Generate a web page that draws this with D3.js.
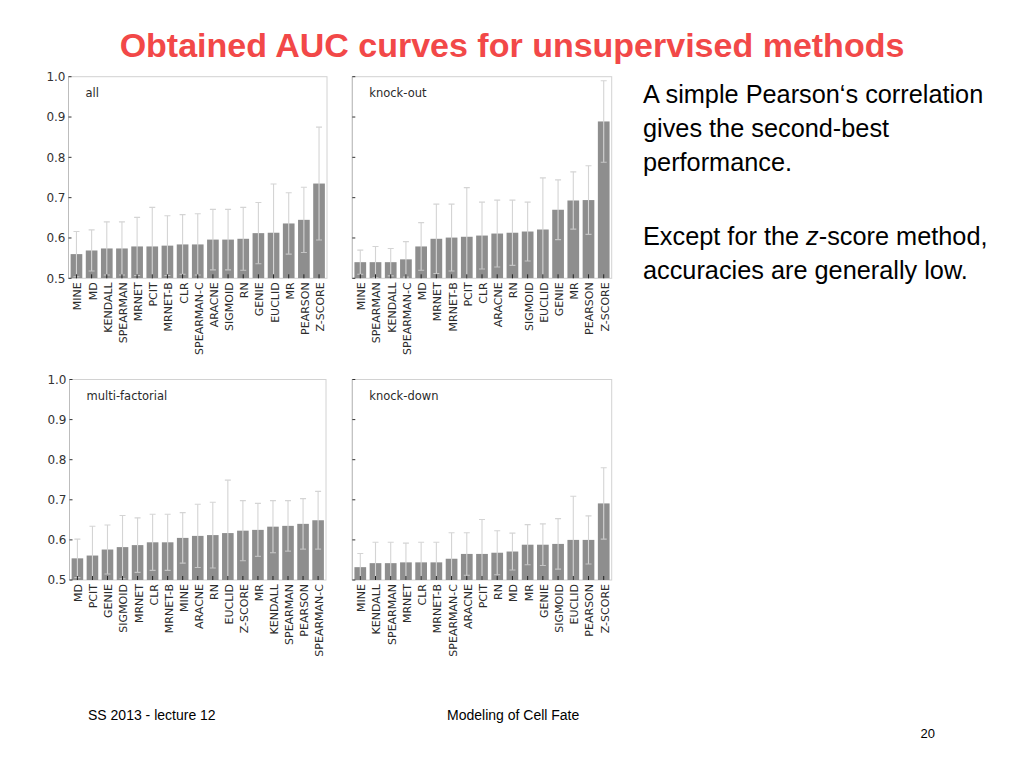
<!DOCTYPE html>
<html><head><meta charset="utf-8">
<script src="https://cdn.jsdelivr.net/npm/d3@7"></script>
<style>body{margin:0;background:#fff;} svg{display:block;}</style>
</head><body>
<script>
const titleText = "Obtained AUC curves for unsupervised methods";
const yTicks = [0.5, 0.6, 0.7, 0.8, 0.9, 1.0];
const yTickLabels = ["0.5", "0.6", "0.7", "0.8", "0.9", "1.0"];

// Panel "all"
const allMethods = ["MINE","MD","KENDALL","SPEARMAN","MRNET","PCIT","MRNET-B","CLR","SPEARMAN-C","ARACNE","SIGMOID","RN","GENIE","EUCLID","MR","PEARSON","Z-SCORE"];
const allAUC =     [0.560,0.569,0.574,0.574,0.579,0.579,0.581,0.584,0.584,0.596,0.596,0.598,0.612,0.613,0.636,0.645,0.735];
const allErrTop =  [0.616,0.620,0.640,0.640,0.651,0.676,0.655,0.658,0.660,0.671,0.671,0.676,0.688,0.734,0.712,0.726,0.875];

// Panel "knock-out"
const koMethods = ["MINE","SPEARMAN","KENDALL","SPEARMAN-C","MD","MRNET","MRNET-B","PCIT","CLR","ARACNE","RN","SIGMOID","EUCLID","GENIE","MR","PEARSON","Z-SCORE"];
const koAUC =     [0.540,0.540,0.540,0.547,0.579,0.598,0.601,0.603,0.606,0.611,0.613,0.616,0.621,0.670,0.693,0.694,0.889];
const koErrTop =  [0.570,0.579,0.574,0.591,0.638,0.684,0.684,0.725,0.689,0.694,0.694,0.689,0.749,0.744,0.764,0.779,0.990];

// Panel "multi-factorial"
const mfMethods = ["MD","PCIT","GENIE","SIGMOID","MRNET","CLR","MRNET-B","MINE","ARACNE","RN","EUCLID","Z-SCORE","MR","KENDALL","SPEARMAN","PEARSON","SPEARMAN-C"];
const mfAUC =     [0.554,0.561,0.576,0.582,0.587,0.594,0.594,0.605,0.610,0.612,0.617,0.623,0.625,0.633,0.635,0.640,0.649];
const mfErrTop =  [0.602,0.634,0.637,0.661,0.655,0.664,0.664,0.668,0.689,0.694,0.749,0.698,0.691,0.698,0.698,0.703,0.721];

// Panel "knock-down"
const kdMethods = ["MINE","KENDALL","SPEARMAN","MRNET","CLR","MRNET-B","SPEARMAN-C","ARACNE","PCIT","RN","MD","MR","GENIE","SIGMOID","EUCLID","PEARSON","Z-SCORE"];
const kdAUC =     [0.532,0.542,0.542,0.544,0.544,0.544,0.553,0.565,0.565,0.568,0.571,0.588,0.588,0.590,0.600,0.600,0.691];
const kdErrTop =  [0.566,0.594,0.594,0.592,0.594,0.594,0.618,0.618,0.651,0.623,0.617,0.638,0.640,0.653,0.709,0.660,0.780];

const sideLines1 = ["A simple Pearson\u2018s correlation", "gives the second-best", "performance."];
const footerLeft = "SS 2013 - lecture 12";
const footerMid = "Modeling of Cell Fate";
const pageNum = "20";

const W = 1024, H = 768;
const svg = d3.select("body").append("svg").attr("width", W).attr("height", H);

svg.append("text").attr("x", 512).attr("y", 57).attr("text-anchor", "middle")
  .attr("font-family", "Liberation Sans, Arial, sans-serif").attr("font-weight", "bold")
  .attr("font-size", 34).attr("fill", "#f24848").text(titleText);

const panels = [
  {name: "all", methods: allMethods, auc: allAUC, top: allErrTop, left: 68.5, top0: 76.7, w: 258.5, h: 201.6, yLabels: true},
  {name: "knock-out", methods: koMethods, auc: koAUC, top: koErrTop, left: 352.3, top0: 76.7, w: 259.4, h: 201.6, yLabels: false},
  {name: "multi-factorial", methods: mfMethods, auc: mfAUC, top: mfErrTop, left: 69.5, top0: 379.5, w: 256.5, h: 200.5, yLabels: true},
  {name: "knock-down", methods: kdMethods, auc: kdAUC, top: kdErrTop, left: 352.3, top0: 379.5, w: 259.4, h: 200.5, yLabels: false}
];

const axisFont = "DejaVu Sans, sans-serif";

panels.forEach((p, pi) => {
  const g = svg.append("g");
  const x = d3.scaleBand().domain(p.methods).range([p.left, p.left + p.w]).paddingInner(0.23).paddingOuter(0.14);
  const y = d3.scaleLinear().domain([0.5, 1.0]).range([p.top0 + p.h, p.top0]);

  const clipId = "clip" + pi;
  svg.append("clipPath").attr("id", clipId).append("rect")
    .attr("x", p.left).attr("y", p.top0).attr("width", p.w).attr("height", p.h);

  // frame
  g.append("rect").attr("x", p.left).attr("y", p.top0).attr("width", p.w).attr("height", p.h)
    .attr("fill", "none").attr("stroke", "#d2d2d2").attr("stroke-width", 1);

  const data = p.methods.map((m, i) => ({m, v: p.auc[i], t: p.top[i], b: 2 * p.auc[i] - p.top[i]}));
  const inner = g.append("g").attr("clip-path", `url(#${clipId})`);

  inner.selectAll("rect.bar").data(data).enter().append("rect")
    .attr("x", d => x(d.m)).attr("width", x.bandwidth())
    .attr("y", d => y(d.v)).attr("height", d => y(0.5) - y(d.v))
    .attr("fill", "#8e8e8e");

  const cx = d => x(d.m) + x.bandwidth() / 2;
  inner.selectAll("line.err").data(data).enter().append("line")
    .attr("x1", cx).attr("x2", cx).attr("y1", d => y(d.t)).attr("y2", d => y(d.b))
    .attr("stroke", "#d4d4d4").attr("stroke-width", 1.1);
  inner.selectAll("line.capT").data(data).enter().append("line")
    .attr("x1", d => cx(d) - 3).attr("x2", d => cx(d) + 3).attr("y1", d => y(d.t)).attr("y2", d => y(d.t))
    .attr("stroke", "#d4d4d4").attr("stroke-width", 1.1);
  inner.selectAll("line.capB").data(data).enter().append("line")
    .attr("x1", d => cx(d) - 3).attr("x2", d => cx(d) + 3).attr("y1", d => y(d.b)).attr("y2", d => y(d.b))
    .attr("stroke", "#c4c4c4").attr("stroke-width", 1.1);

  // x ticks (inside, at bottom)
  g.selectAll("line.xt").data(data).enter().append("line")
    .attr("x1", cx).attr("x2", cx).attr("y1", y(0.5)).attr("y2", y(0.5) - 4)
    .attr("stroke", "#222").attr("stroke-width", 1);

  // y axis
  g.append("line").attr("x1", p.left).attr("x2", p.left).attr("y1", p.top0).attr("y2", p.top0 + p.h)
    .attr("stroke", "#bdbdbd");
  g.selectAll("line.yt").data(yTicks).enter().append("line")
    .attr("x1", p.left).attr("x2", p.left + 3).attr("y1", d => y(d)).attr("y2", d => y(d))
    .attr("stroke", "#333").attr("stroke-width", 1);
  if (p.yLabels) {
    g.selectAll("text.yl").data(yTicks).enter().append("text")
      .attr("x", p.left - 3).attr("y", d => y(d)).attr("dy", "0.36em")
      .attr("text-anchor", "end").attr("font-family", axisFont).attr("font-size", 12)
      .attr("fill", "#333").text((d, i) => yTickLabels[i]);
  }

  // x labels
  g.selectAll("text.xl").data(data).enter().append("text")
    .attr("transform", d => `translate(${cx(d)},${y(0.5) + 4}) rotate(-90)`)
    .attr("dy", "0.45em").attr("text-anchor", "end")
    .attr("font-family", axisFont).attr("font-size", 11).attr("fill", "#2a2a2a")
    .text(d => d.m);

  // panel name
  g.append("text").attr("x", p.left + 17).attr("y", p.top0 + 20)
    .attr("font-family", axisFont).attr("font-size", 11.5).attr("fill", "#2a2a2a").text(p.name);
});

// side text
const sideFont = "Liberation Sans, Arial, sans-serif";
const sideSize = 25.3;
sideLines1.forEach((t, i) => {
  svg.append("text").attr("x", 643).attr("y", 103 + i * 34).attr("font-family", sideFont)
    .attr("font-size", sideSize).attr("fill", "#000").text(t);
});
const l4 = svg.append("text").attr("x", 643).attr("y", 245).attr("font-family", sideFont)
  .attr("font-size", sideSize).attr("fill", "#000");
l4.append("tspan").text("Except for the ");
l4.append("tspan").attr("font-style", "italic").text("z");
l4.append("tspan").text("-score method,");
svg.append("text").attr("x", 643).attr("y", 279).attr("font-family", sideFont)
  .attr("font-size", sideSize).attr("fill", "#000").text("accuracies are generally low.");

// footer
svg.append("text").attr("x", 88).attr("y", 720).attr("font-family", sideFont).attr("font-size", 14).text(footerLeft);
svg.append("text").attr("x", 447).attr("y", 720).attr("font-family", sideFont).attr("font-size", 14).text(footerMid);
svg.append("text").attr("x", 935).attr("y", 738).attr("text-anchor", "end").attr("font-family", sideFont).attr("font-size", 13).text(pageNum);
</script>
</body></html>
